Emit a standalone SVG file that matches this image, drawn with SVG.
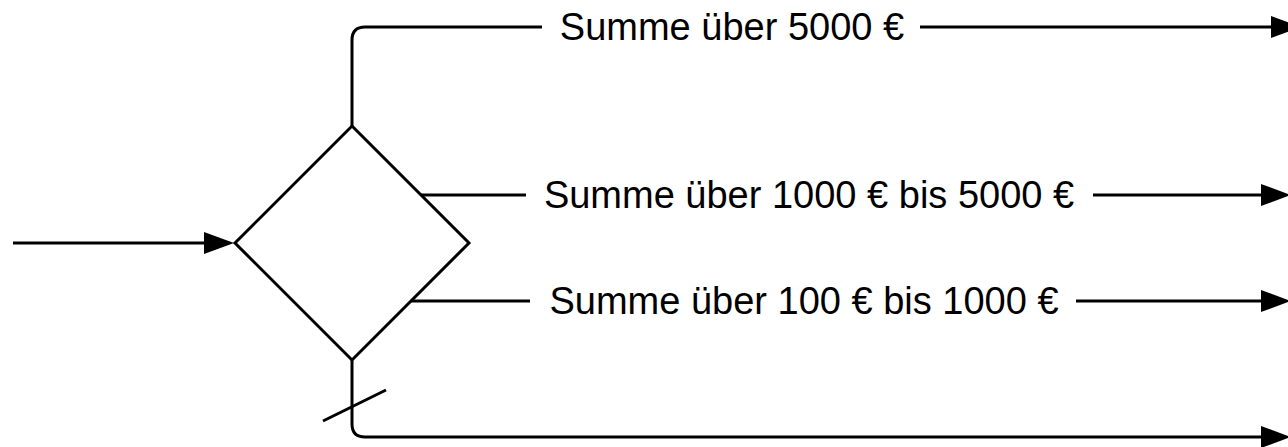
<svg xmlns="http://www.w3.org/2000/svg" width="1288" height="447" viewBox="0 0 1288 447">
<style>
.ln{fill:none;stroke:#000;stroke-width:3}
.lbl{font-family:"Liberation Sans",Arial,sans-serif;font-size:38px;fill:#000;text-anchor:middle}
.shape{fill:#fff;stroke:#000;stroke-width:3}
</style>
<defs>
<marker id="arr" markerUnits="userSpaceOnUse" markerWidth="32" markerHeight="24" refX="0" refY="11" orient="auto" overflow="visible">
<path d="M0,0 L30,11 L0,22 Z" fill="#000"/>
</marker>
</defs>
<g id="connectors">
<path class="ln" d="M13,243 H204" marker-end="url(#arr)"/>
<path class="ln" d="M352,126 V40 Q352,27 365,27 H542"/>
<path class="ln" d="M920,27 H1271" marker-end="url(#arr)"/>
<path class="ln" d="M421,195 H526"/>
<path class="ln" d="M1093,195 H1261" marker-end="url(#arr)"/>
<path class="ln" d="M411,301 H530"/>
<path class="ln" d="M1076,301 H1261" marker-end="url(#arr)"/>
<path class="ln" d="M352,360 V424 Q352,437 365,437 H1261" marker-end="url(#arr)"/>
<path class="ln" d="M323,421 L386,390"/>
</g>
<g id="decision">
<polygon class="shape" points="352,126 469,243 352,360 235,243"/>
</g>
<g id="label1"><text class="lbl" x="732" y="40">Summe über 5000 €</text></g>
<g id="label2"><text class="lbl" x="809" y="208">Summe über 1000 € bis 5000 €</text></g>
<g id="label3"><text class="lbl" x="804" y="314">Summe über 100 € bis 1000 €</text></g>
</svg>
